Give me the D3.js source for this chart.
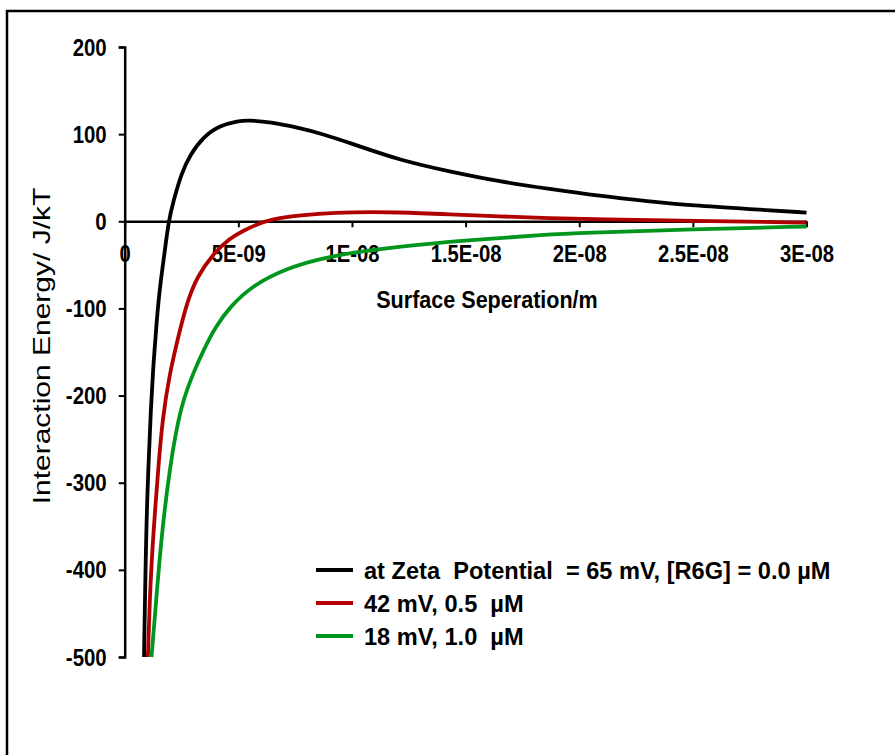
<!DOCTYPE html>
<html>
<head>
<meta charset="utf-8">
<script src="https://cdn.jsdelivr.net/npm/d3@7"></script>
<style>
  html, body { margin: 0; padding: 0; background: #fff; }
  svg { display: block; }
  text { font-family: "Liberation Sans", Arial, sans-serif; fill: #000; }
</style>
</head>
<body>
<svg id="chart" width="895" height="755"></svg>
<script>
// Axis ticks
const xTickValues = [0, 5e-9, 1e-8, 1.5e-8, 2e-8, 2.5e-8, 3e-8];
const xTickLabels = ["0", "5E-09", "1E-08", "1.5E-08", "2E-08", "2.5E-08", "3E-08"];
const yTickValues = [200, 100, 0, -100, -200, -300, -400, -500];
const yTickLabels = ["200", "100", "0", "-100", "-200", "-300", "-400", "-500"];

// Series names
const seriesNames = [
  "at Zeta  Potential  = 65 mV, [R6G] = 0.0 \u00b5M",
  "42 mV, 0.5  \u00b5M",
  "18 mV, 1.0  \u00b5M"
];
const seriesColors = ["#000000", "#b00000", "#00961e"];

// Surface separation (m) and interaction energy (J/kT) for each series
const sepZeta65 = [0.85e-9, 0.94e-9, 1.04e-9, 1.15e-9, 1.26e-9, 1.41e-9, 1.55e-9, 1.75e-9, 1.93e-9, 2.14e-9, 2.51e-9, 2.87e-9, 3.46e-9, 4.19e-9, 5.0e-9, 5.4e-9, 6.4e-9, 7.7e-9, 8.6e-9, 9.9e-9, 12.1e-9, 14.3e-9, 16.5e-9, 18.7e-9, 20.9e-9, 23.0e-9, 25.0e-9, 27.5e-9, 30.0e-9];
const energyZeta65 = [-500, -358, -282, -215, -165, -113, -75, -37, 0, 23, 56, 76, 97, 110, 115, 116, 114, 107, 101, 90, 70, 57, 45.5, 37, 29, 23, 18, 14, 10];

const sepZeta42 = [1.02e-9, 1.12e-9, 1.26e-9, 1.48e-9, 1.66e-9, 1.95e-9, 2.36e-9, 2.73e-9, 3.17e-9, 3.9e-9, 4.63e-9, 5.2e-9, 6.1e-9, 7.0e-9, 8.6e-9, 9.9e-9, 12.1e-9, 14.3e-9, 16.5e-9, 18.7e-9, 20.9e-9, 25.0e-9, 30.0e-9];
const energyZeta42 = [-500, -420, -358, -282, -228, -178, -132, -94, -64, -37, -19.5, -11, 0, 5, 9, 10.5, 10.5, 8, 5.5, 3.5, 2.3, 0.5, -1.5];

const sepZeta18 = [1.18e-9, 1.4e-9, 1.63e-9, 1.99e-9, 2.3e-9, 2.6e-9, 3.0e-9, 3.5e-9, 4.0e-9, 4.63e-9, 5.66e-9, 7.12e-9, 8.59e-9, 10.0e-9, 12.0e-9, 15.0e-9, 18.7e-9, 20.0e-9, 25.0e-9, 30.0e-9];
const energyZeta18 = [-500, -430, -358, -282, -235, -203, -175, -146, -121, -98, -73, -54, -43, -36, -29, -22, -15, -13.5, -9, -6];

const series = [
  { name: seriesNames[0], color: seriesColors[0], xs: sepZeta65, ys: energyZeta65 },
  { name: seriesNames[1], color: seriesColors[1], xs: sepZeta42, ys: energyZeta42 },
  { name: seriesNames[2], color: seriesColors[2], xs: sepZeta18, ys: energyZeta18 }
];

const svg = d3.select("#chart");

// outer frame (open on the right and bottom edges of the page)
svg.append("rect")
  .attr("x", 7).attr("y", 11)
  .attr("width", 1000).attr("height", 1000)
  .attr("fill", "none").attr("stroke", "#000").attr("stroke-width", 2.5);

const x = d3.scaleLinear().domain([0, 3e-8]).range([124.7, 806.5]);
const y = d3.scaleLinear().domain([-500, 200]).range([657, 47]);

// horizontally condensed text helper
function squeeze(sel, sx) {
  sel.each(function () {
    const t = d3.select(this);
    const tx = +t.attr("data-x") || 0, ty = +t.attr("data-y") || 0;
    t.attr("transform", `translate(${tx},${ty}) scale(${sx},1)`);
  });
}

// y axis
const yAxis = svg.append("g")
  .attr("transform", `translate(${x(0)},0)`)
  .call(d3.axisLeft(y).tickValues(yTickValues)
    .tickFormat((d, i) => yTickLabels[i])
    .tickSize(6).tickSizeOuter(6));
yAxis.select(".domain").attr("stroke-width", 2.5);
yAxis.selectAll(".tick line").attr("stroke-width", 2);
yAxis.selectAll(".tick text")
  .attr("x", null).attr("dy", null)
  .attr("data-x", -18).attr("data-y", 0)
  .attr("dominant-baseline", "central")
  .attr("text-anchor", "end")
  .attr("font-size", 24).attr("font-weight", "bold")
  .call(squeeze, 0.85);

// x axis through zero energy
const xAxis = svg.append("g")
  .attr("transform", `translate(0,${y(0)})`)
  .call(d3.axisBottom(x).tickValues(xTickValues)
    .tickFormat((d, i) => xTickLabels[i])
    .tickSize(6).tickSizeOuter(0));
xAxis.select(".domain").attr("stroke-width", 2.5);
xAxis.selectAll(".tick line").attr("stroke-width", 2);
xAxis.selectAll(".tick text")
  .attr("y", null).attr("dy", null)
  .attr("data-x", 0).attr("data-y", 40.5)
  .attr("text-anchor", "middle")
  .attr("font-size", 23).attr("font-weight", "bold")
  .call(squeeze, 0.88);

svg.selectAll(".domain, .tick line").attr("stroke", "#000");
svg.selectAll(".tick text").attr("fill", "#000");

// axis titles
svg.append("text")
  .attr("transform", "translate(487,307.5) scale(0.88,1)")
  .attr("text-anchor", "middle")
  .attr("font-size", 24.5).attr("font-weight", "bold")
  .text("Surface Seperation/m");

svg.append("text")
  .attr("transform", "translate(49.5,346) scale(0.8,1) rotate(-90)")
  .attr("text-anchor", "middle")
  .attr("font-size", 30)
  .text("Interaction Energy/ J/kT");

// curves (smoothed through the sampled energies)
const line = d3.line()
  .x(d => x(d[0]))
  .y(d => y(d[1]))
  .curve(d3.curveBasis);

svg.append("g").selectAll("path")
  .data(series)
  .join("path")
  .attr("d", s => line(s.xs.map((v, i) => [v, s.ys[i]])))
  .attr("fill", "none")
  .attr("stroke", s => s.color)
  .attr("stroke-width", 3.8)
  .attr("stroke-linejoin", "round");

// legend
const legend = svg.append("g").attr("transform", "translate(316,570)");
const rows = legend.selectAll("g")
  .data(series)
  .join("g")
  .attr("transform", (d, i) => `translate(0,${i * 33})`);
rows.append("line")
  .attr("x1", 0).attr("x2", 37)
  .attr("y1", 0).attr("y2", 0)
  .attr("stroke", d => d.color)
  .attr("stroke-width", 3.8);
rows.append("text")
  .attr("transform", "translate(48,1)")
  .attr("dominant-baseline", "central")
  .attr("font-size", 23.6).attr("font-weight", "bold")
  .style("white-space", "pre")
  .text(d => d.name);
</script>
</body>
</html>
